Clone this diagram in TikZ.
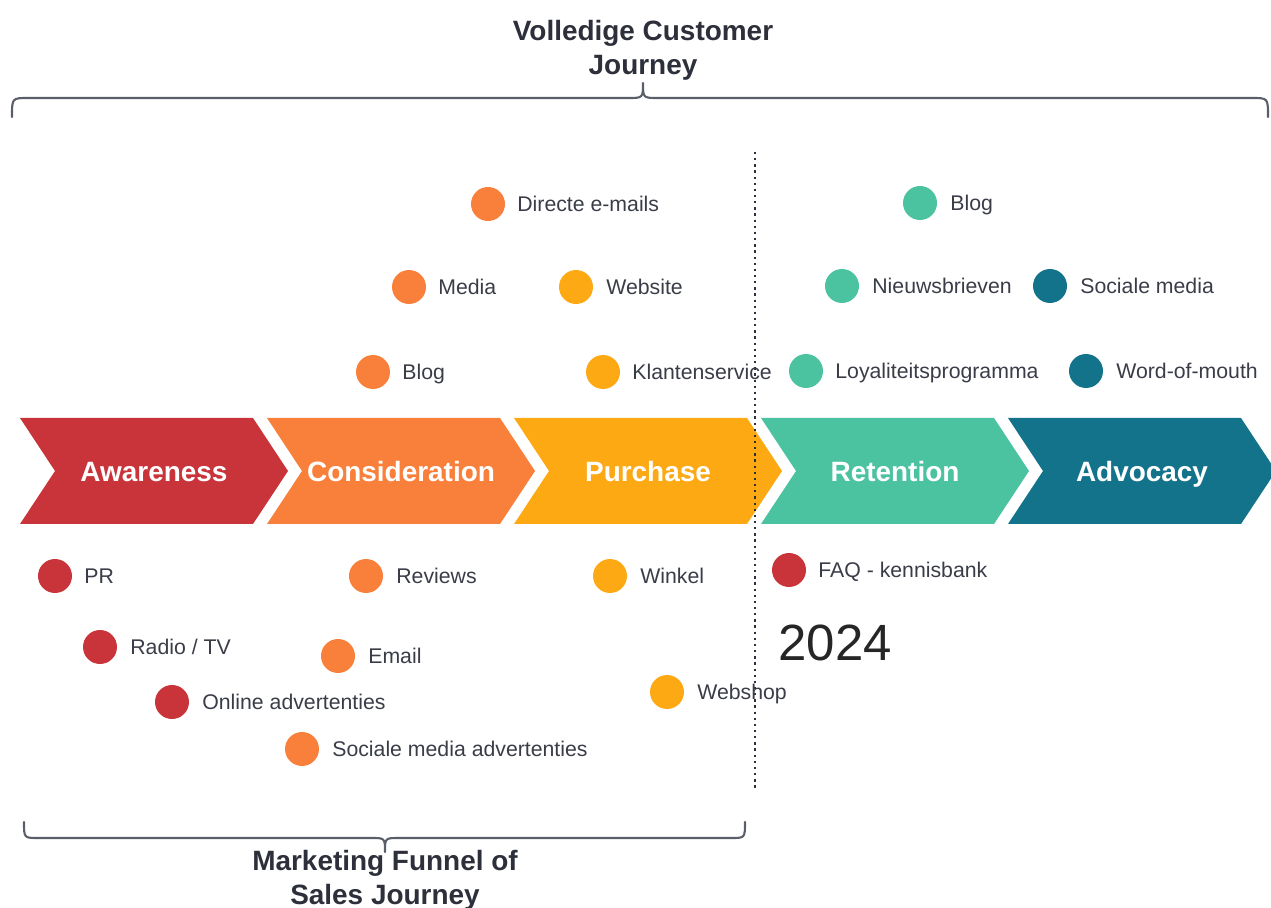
\documentclass[tikz,border=0pt]{standalone}
\usepackage{fontspec}
\setmainfont{Liberation Sans}
\definecolor{cRed}{HTML}{C9333A}
\definecolor{cOrange}{HTML}{F9803B}
\definecolor{cAmber}{HTML}{FCA913}
\definecolor{cGreen}{HTML}{4BC2A0}
\definecolor{cTeal}{HTML}{13738A}
\definecolor{cText}{HTML}{3A3D48}
\definecolor{cTitle}{HTML}{2D2F3A}
\definecolor{cBrace}{HTML}{5A5E68}
\newcommand{\chevron}[4]{%
  \fill[#2] (#1,418) -- ++(233,0) -- ++(35,53) -- ++(-35,53) -- ++(-233,0) -- ++(35,-53) -- cycle;
  \node[stage] (#3) at (#1+134,471) {#4};}
\begin{document}
\begin{tikzpicture}[x=0.02cm,y=-0.02cm,
  stage/.style={text=white,font=\fontsize{15.9}{19}\selectfont\bfseries,inner sep=0,text height=11.4pt,text depth=0pt,yshift=-0.5pt},
  dot/.style={circle,fill=#1,minimum size=0.68cm,inner sep=0},
  lbl/.style={anchor=base west,text=cText,font=\fontsize{12.1}{14}\selectfont,inner sep=0},
  ttl/.style={text=cTitle,font=\fontsize{15.9}{19.3}\selectfont\bfseries,align=center,inner sep=0},
  brace/.style={draw=cBrace,line width=1.2pt,line cap=round,line join=round}]
\useasboundingbox (0,0) rectangle (1271,908);
% chevrons
\chevron{20}{cRed}{aw}{Awareness}
\chevron{267}{cOrange}{co}{Consideration}
\chevron{514}{cAmber}{pu}{Purchase}
\chevron{761}{cGreen}{re}{Retention}
\chevron{1008}{cTeal}{ad}{Advocacy}
% dotted divider
\coordinate (dvT) at (755,152);
\coordinate (dvB) at (755,790);
\draw[cTitle,line width=1.3pt,dash pattern=on 1.3pt off 2.2pt] (dvT) -- (dvB);
% titles
\node[ttl] (top) at (643,50) {Volledige Customer\\Journey};
\node[ttl] (bot) at (385,880) {Marketing Funnel of\\Sales Journey};
% braces
\coordinate (tbL) at (12,117);
\coordinate (tbR) at (1268,117);
\coordinate (tbM) at (643,83);
\draw[brace] (tbL) .. controls (12,98) .. (28,98) -- (628,98) .. controls (643,98) .. (tbM)
  .. controls (643,98) .. (658,98) -- (1252,98) .. controls (1268,98) .. (tbR);
\coordinate (bbL) at (24,822);
\coordinate (bbR) at (745,822);
\coordinate (bbM) at (385,852);
\draw[brace] (bbL) .. controls (24,838) .. (38,838) -- (371,838) .. controls (385,838) .. (bbM)
  .. controls (385,838) .. (399,838) -- (731,838) .. controls (745,838) .. (bbR);
% upper items
\node[dot=cOrange] (d1) at (488,204) {}; \node[lbl] (l1) at (517,211.5) {Directe e-mails};
\node[dot=cOrange] (d2) at (409,287) {}; \node[lbl] (l2) at (438,294.5) {Media};
\node[dot=cAmber] (d3) at (576,287) {}; \node[lbl] (l3) at (606,294.5) {Website};
\node[dot=cOrange] (d4) at (373,372) {}; \node[lbl] (l4) at (402,379.5) {Blog};
\node[dot=cAmber] (d5) at (603,372) {}; \node[lbl] (l5) at (632,379.5) {Klantenservice};
\node[dot=cGreen] (d6) at (920,203) {}; \node[lbl] (l6) at (950,210.5) {Blog};
\node[dot=cGreen] (d7) at (842,286) {}; \node[lbl] (l7) at (872,293.5) {Nieuwsbrieven};
\node[dot=cTeal] (d8) at (1050,286) {}; \node[lbl] (l8) at (1080,293.5) {Sociale media};
\node[dot=cGreen] (d9) at (806,371) {}; \node[lbl] (l9) at (835,378.5) {Loyaliteitsprogramma};
\node[dot=cTeal] (d10) at (1086,371) {}; \node[lbl] (l10) at (1116,378.5) {Word-of-mouth};
% lower items
\node[dot=cRed] (d11) at (55,576) {}; \node[lbl] (l11) at (84,583.5) {PR};
\node[dot=cRed] (d12) at (100,647) {}; \node[lbl] (l12) at (130,654.5) {Radio / TV};
\node[dot=cRed] (d13) at (172,702) {}; \node[lbl] (l13) at (202,709.5) {Online advertenties};
\node[dot=cOrange] (d14) at (366,576) {}; \node[lbl] (l14) at (396,583.5) {Reviews};
\node[dot=cOrange] (d15) at (338,656) {}; \node[lbl] (l15) at (368,663.5) {Email};
\node[dot=cOrange] (d16) at (302,749) {}; \node[lbl] (l16) at (332,756.5) {Sociale media advertenties};
\node[dot=cAmber] (d17) at (610,576) {}; \node[lbl] (l17) at (640,583.5) {Winkel};
\node[dot=cAmber] (d18) at (667,692) {}; \node[lbl] (l18) at (697,699.5) {Webshop};
\node[dot=cRed] (d19) at (789,570) {}; \node[lbl] (l19) at (818,577.5) {FAQ - kennisbank};
\node[anchor=base west,inner sep=0,text=black!85,font=\fontsize{29}{34}\selectfont] (yr) at (778,660) {2024};
\end{tikzpicture}
\end{document}
